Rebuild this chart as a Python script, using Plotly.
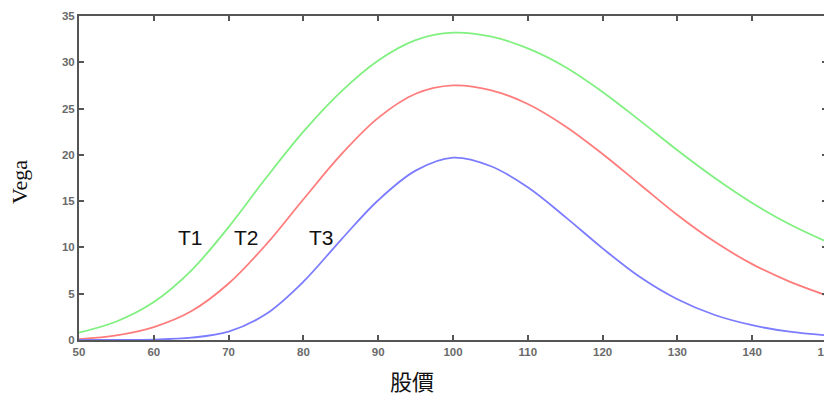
import plotly.graph_objects as go

# Stock price grid
stock_price = [50, 55, 60, 65, 70, 75, 80, 85, 90, 95, 100, 105, 110, 115, 120, 125, 130, 135, 140, 145, 150]

# Vega readings for each maturity
vega_T1 = [0.8, 2.0, 4.1, 7.5, 12.2, 17.5, 22.5, 26.8, 30.2, 32.4, 33.2, 32.8, 31.5, 29.5, 26.8, 23.7, 20.5, 17.5, 14.8, 12.5, 10.6]
vega_T2 = [0.1, 0.5, 1.4, 3.1, 6.1, 10.3, 15.2, 20.0, 24.0, 26.6, 27.5, 27.0, 25.5, 23.1, 20.1, 16.8, 13.5, 10.6, 8.2, 6.3, 4.8]
vega_T3 = [0.0, 0.01, 0.05, 0.25, 0.9, 2.8, 6.3, 10.8, 15.1, 18.3, 19.7, 18.8, 16.5, 13.3, 9.9, 6.8, 4.4, 2.7, 1.6, 0.9, 0.5]

series_names = ["T1", "T2", "T3"]
series_colors = ["#80F080", "#FF7C7C", "#7C7CFF"]
label_x = [64.9, 72.4, 82.4]
label_y = [11.1, 11.1, 11.1]

x_ticks = [50, 60, 70, 80, 90, 100, 110, 120, 130, 140, 150]
y_ticks = [0, 5, 10, 15, 20, 25, 30, 35]

fig = go.Figure()
for name, vals, col in zip(series_names, [vega_T1, vega_T2, vega_T3], series_colors):
    fig.add_trace(go.Scatter(x=stock_price, y=vals, mode="lines", name=name,
                             line=dict(color=col, width=1.8, shape="spline", smoothing=1.0)))

for name, lx, ly in zip(series_names, label_x, label_y):
    fig.add_annotation(x=lx, y=ly, text=name, showarrow=False,
                       xanchor="center", yanchor="middle",
                       font=dict(family="Liberation Sans, Arial", size=21, color="#111111"))

fig.add_annotation(xref="paper", yref="paper", x=-0.0789, y=0.4877, text="Vega",
                   showarrow=False, textangle=-90, xanchor="center", yanchor="middle",
                   font=dict(family="Liberation Serif, Times New Roman, serif", size=22, color="#111111"))
fig.add_annotation(xref="paper", yref="paper", x=0.445, y=-0.13, text="股價",
                   showarrow=False, xanchor="center", yanchor="middle",
                   font=dict(family="Liberation Serif, Noto Sans CJK TC, serif", size=22, color="#111111"))

axis_common = dict(showline=True, linecolor="#555555", linewidth=2, mirror="ticks",
                   ticks="inside", ticklen=5, tickwidth=1.5, tickcolor="#555555",
                   showgrid=False, zeroline=False,
                   tickfont=dict(family="Liberation Sans, Arial", size=11.5, color="#6a6a6a", weight="bold"))

fig.update_xaxes(range=[50, 150], tickvals=x_ticks, ticktext=[str(v) for v in x_ticks],
                 ticklabeloverflow="allow", **axis_common)
fig.update_yaxes(range=[0, 35], tickvals=y_ticks, ticktext=[str(v) for v in y_ticks], **axis_common)

# page body adds an 8px offset, so the figure is sized/margined to compensate
fig.update_layout(width=824, height=388,
                  margin=dict(l=71, r=5, t=8, b=56, autoexpand=False),
                  paper_bgcolor="white", plot_bgcolor="white", showlegend=False)

fig.write_html("out.html")
